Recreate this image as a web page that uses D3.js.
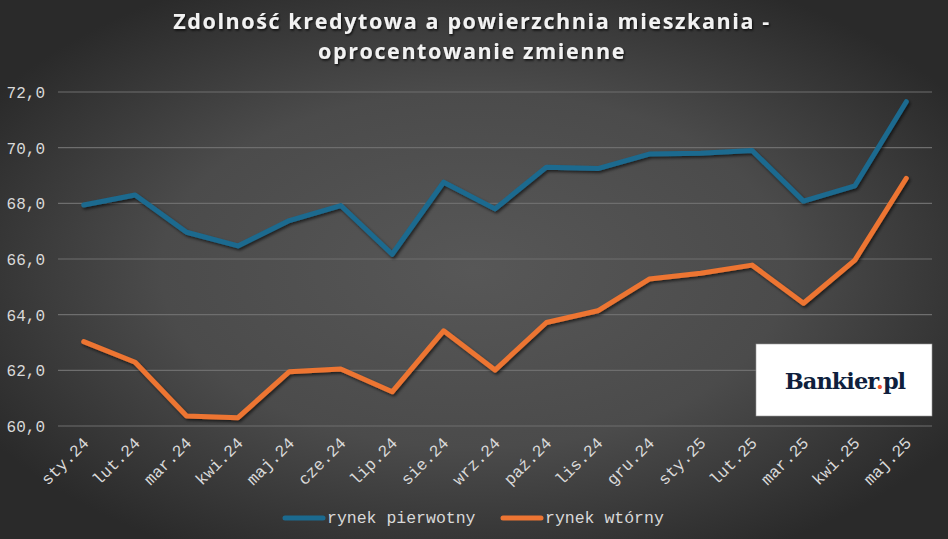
<!DOCTYPE html>
<html><head><meta charset="utf-8">
<script src="https://cdn.jsdelivr.net/npm/d3@7"></script>
<style>
html,body{margin:0;padding:0;background:#2e2e2e;}
svg{display:block;}
</style></head>
<body>
<svg id="chart" width="948" height="539"></svg>
<script>
const categories = ["sty.24","lut.24","mar.24","kwi.24","maj.24","cze.24","lip.24","sie.24","wrz.24","paź.24","lis.24","gru.24","sty.25","lut.25","mar.25","kwi.25","maj.25"];
const pierwotny = [67.94,68.3,66.96,66.47,67.38,67.92,66.17,68.76,67.8,69.3,69.25,69.77,69.8,69.9,68.08,68.63,71.65];
const wtorny = [63.03,62.29,60.36,60.3,61.95,62.05,61.23,63.42,62.01,63.72,64.14,65.28,65.49,65.78,64.41,65.96,68.9];
const yTicks = [60,62,64,66,68,70,72];
const seriesNames = ["rynek pierwotny","rynek wtórny"];
const title = ["Zdolność kredytowa a powierzchnia mieszkania -","oprocentowanie zmienne"];

(function(){
const W = 948, H = 539;
const svg = d3.select("#chart");
const defs = svg.append("defs");
const rg = defs.append("radialGradient").attr("id","bg").attr("cx","50%").attr("cy","50%").attr("r","60%");
rg.append("stop").attr("offset","0%").attr("stop-color","#575757");
rg.append("stop").attr("offset","55%").attr("stop-color","#4b4b4b");
rg.append("stop").attr("offset","100%").attr("stop-color","#2a2a2a");
svg.append("rect").attr("width",W).attr("height",H).attr("fill","url(#bg)");

const f = defs.append("filter").attr("id","sh").attr("x","-10%").attr("y","-10%").attr("width","120%").attr("height","130%");
f.append("feDropShadow").attr("dx",1.5).attr("dy",2).attr("stdDeviation",1.5).attr("flood-color","#000").attr("flood-opacity",0.6);
const ft = defs.append("filter").attr("id","tsh");
ft.append("feDropShadow").attr("dx",1).attr("dy",1.5).attr("stdDeviation",1.2).attr("flood-color","#000").attr("flood-opacity",0.8);

const pL = 58, pR = 932, pT = 92, pB = 426;
const x = d3.scaleBand().domain(categories).range([pL,pR]);
const y = d3.scaleLinear().domain([60,72]).range([pB,pT]);
const cx = d => x(d) + x.bandwidth()/2;

// title
svg.append("g").attr("filter","url(#tsh)").selectAll("text").data(title).join("text")
  .attr("x",472).attr("y",(d,i)=>29+i*30).attr("text-anchor","middle")
  .attr("font-family","'Open Sans', sans-serif").attr("font-weight","bold").attr("font-size",21.5)
  .attr("letter-spacing","1.6px")
  .attr("fill","#f2f2f2").text(d=>d);

// gridlines
svg.append("g").selectAll("line").data(yTicks).join("line")
  .attr("x1",pL).attr("x2",pR).attr("y1",d=>y(d)).attr("y2",d=>y(d))
  .attr("stroke","#6e6e6e").attr("stroke-width",1.2);

// y axis
const yAxis = d3.axisLeft(y).tickValues(yTicks).tickSize(0).tickPadding(0)
  .tickFormat(d=>d3.format(".1f")(d).replace(".",","));
const gy = svg.append("g").attr("transform","translate(45,0)").call(yAxis);
gy.select(".domain").remove();
gy.selectAll("text").attr("font-family","'Liberation Mono', monospace").attr("font-size",16)
  .attr("fill","#d9d9d9").attr("dy","0.35em");

// x axis
const xAxis = d3.axisBottom(x).tickSize(0).tickPadding(0);
const gx = svg.append("g").attr("transform",`translate(0,${pB})`).call(xAxis);
gx.select(".domain").remove();
gx.selectAll("text").attr("font-family","'Liberation Mono', monospace").attr("font-size",16.5)
  .attr("fill","#d9d9d9").attr("text-anchor","end").attr("dy",0).attr("y",0)
  .attr("transform","translate(6,18) rotate(-45)");

// lines
const line = d3.line().x((d,i)=>cx(categories[i])).y(d=>y(d));
const colors = ["#1b6a8f","#ed7533"];
[pierwotny, wtorny].forEach((s,k)=>{
  svg.append("path").datum(s).attr("d",line).attr("fill","none")
    .attr("stroke",colors[k]).attr("stroke-width",5).attr("stroke-linejoin","round").attr("stroke-linecap","round")
    .attr("filter","url(#sh)");
});

// legend
const lg = svg.append("g");
const legX = [285, 503];
seriesNames.forEach((n,k)=>{
  lg.append("line").attr("x1",legX[k]).attr("x2",legX[k]+38).attr("y1",518).attr("y2",518)
    .attr("stroke",colors[k]).attr("stroke-width",5).attr("stroke-linecap","round");
  lg.append("text").attr("x",legX[k]+42).attr("y",523).text(n)
    .attr("font-family","'Liberation Mono', monospace").attr("font-size",16.5).attr("fill","#d9d9d9");
});

// logo
svg.append("rect").attr("x",756).attr("y",344).attr("width",176).attr("height",72).attr("fill","#ffffff")
  .attr("stroke","#9a9a9a").attr("stroke-width",0.6);
const lt = svg.append("text").attr("x",845).attr("y",389).attr("text-anchor","middle")
  .attr("font-family","'DejaVu Serif', serif").attr("font-weight","bold").attr("font-size",22.5)
  .attr("letter-spacing","-1px").attr("fill","#0f1f3d");
lt.append("tspan").text("Bankier");
lt.append("tspan").attr("fill","#f0532a").text(".");
lt.append("tspan").text("pl");
})();
</script>
</body></html>
